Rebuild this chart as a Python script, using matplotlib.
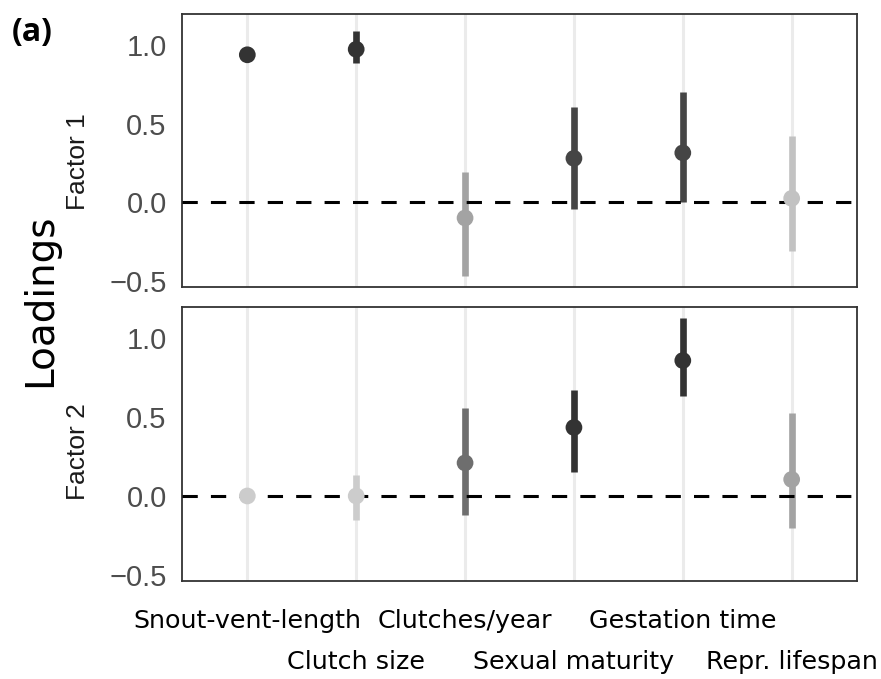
import matplotlib
matplotlib.use('Agg')
import matplotlib.pyplot as plt
import numpy as np

#------------------------------------------------------------------------------
# Data
#------------------------------------------------------------------------------
traits = ['Snout-vent-length', 'Clutch size', 'Clutches/year',
          'Sexual maturity', 'Gestation time', 'Repr. lifespan']

f1_est = [0.94, 0.975, -0.10, 0.28, 0.315, 0.025]
f1_lo = [0.91, 0.89, -0.47, -0.04, 0.0, -0.31]
f1_hi = [0.99, 1.09, 0.19, 0.61, 0.705, 0.42]
f1_col = ['#333333', '#333333', '#a3a3a3', '#454545', '#454545', '#c2c2c2']

f2_est = [0.0, 0.0, 0.21, 0.435, 0.86, 0.105]
f2_lo = [-0.01, -0.155, -0.12, 0.155, 0.635, -0.205]
f2_hi = [0.01, 0.135, 0.56, 0.675, 1.13, 0.53]
f2_col = ['#cccccc', '#cccccc', '#6e6e6e', '#333333', '#333333', '#a3a3a3']

yticks = [-0.5, 0.0, 0.5, 1.0]
ytick_labels = ['\u22120.5', '0.0', '0.5', '1.0']

#------------------------------------------------------------------------------
# Plotting
#------------------------------------------------------------------------------
W, H = 881, 679
fig = plt.figure(figsize=(W/100, H/100), dpi=100)

def px_axes(l, t, r, b):
    return fig.add_axes([l/W, 1-b/H, (r-l)/W, (b-t)/H])

ax1 = px_axes(182, 14, 857, 287)
ax2 = px_axes(182, 307, 857, 581)

x = np.arange(len(traits))
panels = [(ax1, f1_est, f1_lo, f1_hi, f1_col, 'Factor 1', 0.46),
          (ax2, f2_est, f2_lo, f2_hi, f2_col, 'Factor 2', 0.474)]

for ax, est, lo, hi, col, lab, ly in panels:
    ax.set_xlim(-0.6, 5.6)
    ax.set_ylim(-0.54, 1.2)
    # even traits on the major ticks, odd traits on the minor ticks (2nd row)
    ax.set_xticks(x[::2])
    ax.set_xticks(x[1::2], minor=True)
    ax.set_yticks(yticks)
    ax.set_yticklabels(ytick_labels)
    ax.grid(axis='x', which='both', color='#ebebeb', lw=2.2, zorder=0)
    ax.vlines(x, lo, hi, colors=col, lw=4.8, zorder=2)
    ax.axhline(0, color='black', lw=2.2, dashes=(5, 4.3), zorder=3)
    ax.scatter(x, est, c=col, s=145, zorder=4, linewidths=0)
    ax.tick_params(axis='both', which='both', length=0)
    ax.tick_params(axis='y', pad=11, labelsize=21, labelcolor='#4d4d4d')
    for t in ax.get_yticklabels():
        t.set_fontfamily('Liberation Sans')
    for s in ax.spines.values():
        s.set_color('#333333')
        s.set_linewidth(1.3)
    ax.set_ylabel(lab, fontsize=19, family='Liberation Sans', color='#1a1a1a')
    ax.yaxis.set_label_coords(-0.137, ly)

ax1.set_xticklabels([])
ax1.set_xticklabels([], minor=True)
ax2.set_xticklabels(traits[::2], fontsize=18.3, family='DejaVu Sans')
ax2.set_xticklabels(traits[1::2], minor=True, fontsize=18.3, family='DejaVu Sans')
ax2.tick_params(axis='x', which='major', pad=20)
ax2.tick_params(axis='x', which='minor', pad=50)

fig.text(40/W, 1-300/H, 'Loadings', rotation=90, fontsize=28,
         family='DejaVu Sans', ha='center', va='center')
fig.text(12/W, 1-32/H, '(a)', fontsize=23, fontweight='bold',
         family='Open Sans', ha='left', va='center')

fig.savefig('out.png', dpi=100)
